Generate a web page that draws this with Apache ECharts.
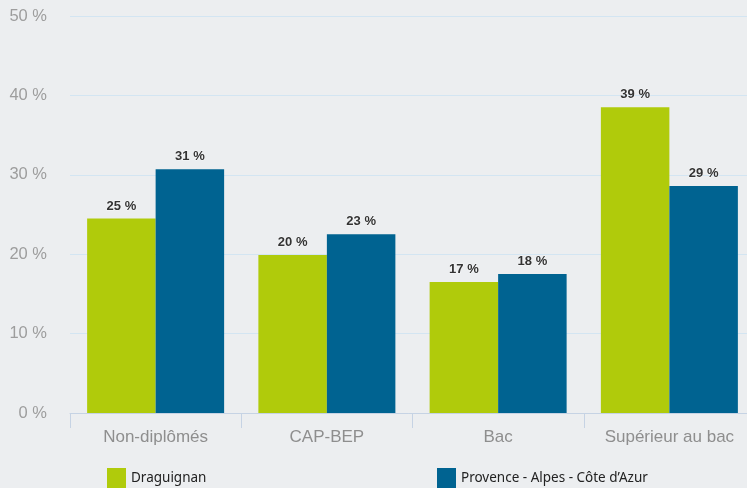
<!DOCTYPE html>
<html>
<head>
<meta charset="utf-8">
<script src="https://cdn.jsdelivr.net/npm/echarts@6/dist/echarts.min.js"></script>
<style>
  html, body { margin: 0; padding: 0; background: #eceef0; }
  #chart { width: 747px; height: 488px; }
</style>
</head>
<body>
<div id="chart"></div>
<script>
// données
const categories = ['Non-diplômés', 'CAP-BEP', 'Bac', 'Supérieur au bac'];
const draguignan = [24.5, 19.9, 16.5, 38.5];
const draguignanLabels = ['25 %', '20 %', '17 %', '39 %'];
const paca = [30.7, 22.5, 17.5, 28.6];
const pacaLabels = ['31 %', '23 %', '18 %', '29 %'];

const chart = echarts.init(document.getElementById('chart'));

const labelStyle = function (texts) {
  return {
    show: true,
    position: 'top',
    distance: 6,
    color: '#333',
    fontWeight: 'bold',
    fontSize: 13,
    fontFamily: 'Liberation Sans',
    textBorderColor: 'rgba(255,255,255,0.6)',
    textBorderWidth: 1,
    formatter: function (p) {
      return texts[p.dataIndex];
    }
  };
};

const legendText = { color: '#222', fontSize: 13.5, fontFamily: 'Noto Sans' };

let option = {
  backgroundColor: '#eceef0',
  animation: false,
  legend: [{
    data: ['Draguignan'],
    left: 107,
    top: 468,
    padding: 0,
    itemWidth: 19,
    itemHeight: 20,
    icon: 'rect',
    textStyle: legendText
  }, {
    data: ['Provence - Alpes - Côte d’Azur'],
    left: 437,
    top: 468,
    padding: 0,
    itemWidth: 19,
    itemHeight: 20,
    icon: 'rect',
    textStyle: legendText
  }],
  grid: {
    left: 70,
    top: 16,
    right: -8,
    bottom: 75,
    containLabel: false,
    outerBoundsMode: 'none'
  },
  xAxis: {
    type: 'category',
    data: categories,
    axisLine: { lineStyle: { color: '#c6d3e4', width: 1 } },
    axisTick: { show: true, length: 15, lineStyle: { color: '#c6d3e4' } },
    axisLabel: {
      color: '#8e8e8e',
      fontSize: 17,
      fontFamily: 'Liberation Sans',
      margin: 16
    }
  },
  yAxis: {
    type: 'value',
    min: 0,
    max: 50,
    interval: 10,
    axisLine: { show: false },
    axisTick: { show: false },
    axisLabel: {
      color: '#9d9d9d',
      fontSize: 16.5,
      fontFamily: 'Liberation Sans',
      margin: 23,
      formatter: '{value} %'
    },
    splitLine: { lineStyle: { color: '#d3e5f2', width: 1 } }
  },
  series: [{
    name: 'Draguignan',
    type: 'bar',
    data: draguignan,
    barGap: '0%',
    barCategoryGap: '20%',
    itemStyle: { color: '#b0cb0b' },
    label: labelStyle(draguignanLabels)
  }, {
    name: 'Provence - Alpes - Côte d’Azur',
    type: 'bar',
    data: paca,
    itemStyle: { color: '#006391' },
    label: labelStyle(pacaLabels)
  }]
};

chart.setOption(option);
</script>
</body>
</html>
